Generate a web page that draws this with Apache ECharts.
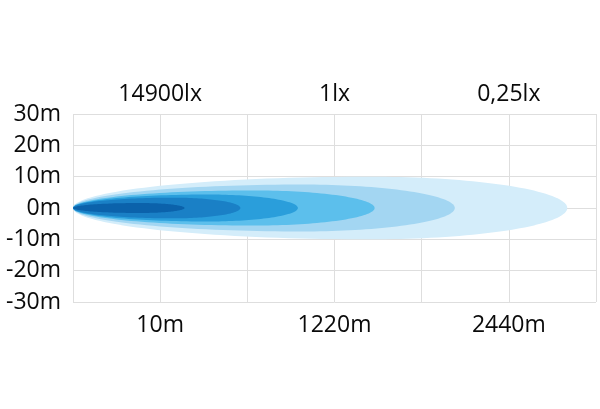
<!DOCTYPE html>
<html>
<head>
<meta charset="utf-8">
<script src="https://cdn.jsdelivr.net/npm/echarts@6/dist/echarts.min.js"></script>
<style>html,body{margin:0;padding:0;background:#fff}#c{width:600px;height:409px}</style>
</head>
<body>
<div id="c"></div>
<script>
// Beam zones, outermost first: reach (x-axis units) and half-spread (m)
const zoneNames = ['0.25lx', '0.5lx', '1lx', '3lx', '10lx', '14900lx'];
const zoneReach = [5.67, 4.38, 3.46, 2.58, 1.92, 1.28];
const zoneSpread = [10, 7.5, 5.6, 4.3, 3.3, 1.6];
const zoneColors = ['#d4edfa', '#a3d6f2', '#5cbfec', '#2a9edb', '#1a80c6', '#0b62ab'];
const yTicks = [-30, -20, -10, 0, 10, 20, 30];
const bottomLabels = {1: '10m', 3: '1220m', 5: '2440m'};
const topLabels = {1: '14900lx', 3: '1lx', 5: '0,25lx'};
const PEAK = 0.6; // fraction of reach at which the beam is widest

const chart = echarts.init(document.getElementById('c'));
const font = '"Open Sans", sans-serif';
const data = zoneReach.map((r, i) => [r, zoneSpread[i], i]);

chart.setOption({
  animation: false,
  grid: {left: 73, right: 4, top: 114, bottom: 107},
  xAxis: [
    {type: 'value', min: 0, max: 6, interval: 1, position: 'bottom',
     axisLine: {show: false}, axisTick: {show: false},
     splitLine: {show: true, lineStyle: {color: '#dedede', width: 1}},
     axisLabel: {margin: 12, fontSize: 23, color: '#0a0a0a', fontFamily: font,
       formatter: v => bottomLabels[v] || ''}},
    {type: 'value', min: 0, max: 6, interval: 1, position: 'top',
     axisLine: {show: false}, axisTick: {show: false}, splitLine: {show: false},
     axisLabel: {margin: 8, fontSize: 23, color: '#0a0a0a', fontFamily: font,
       formatter: v => topLabels[v] || ''}}
  ],
  yAxis: {type: 'value', min: -30, max: 30, interval: 10,
    axisLine: {show: false}, axisTick: {show: false},
    splitLine: {show: true, lineStyle: {color: '#dedede', width: 1}},
    axisLabel: {margin: 12, fontSize: 23, color: '#0a0a0a', fontFamily: font,
      formatter: v => v + 'm'}},
  series: [{
    type: 'custom',
    xAxisIndex: 0,
    data: data,
    clip: false,
    z: 1,
    renderItem: function (params, api) {
      const L = api.value(0), W = api.value(1), idx = api.value(2);
      const c = L * PEAK;
      const N = 80;
      const top = [], bot = [];
      for (let k = 0; k <= N; k++) {
        const th = Math.PI * k / N;
        const x = k <= N / 2 ? c - c * Math.cos(th) : c - (L - c) * Math.cos(th);
        const w = W * Math.sin(th);
        top.push(api.coord([x, w]));
        bot.push(api.coord([x, -w]));
      }
      const poly = top.concat(bot.reverse());
      return {type: 'polygon', shape: {points: poly, smooth: 0},
        style: {fill: zoneColors[idx]}};
    }
  }]
});
</script>
</body>
</html>
